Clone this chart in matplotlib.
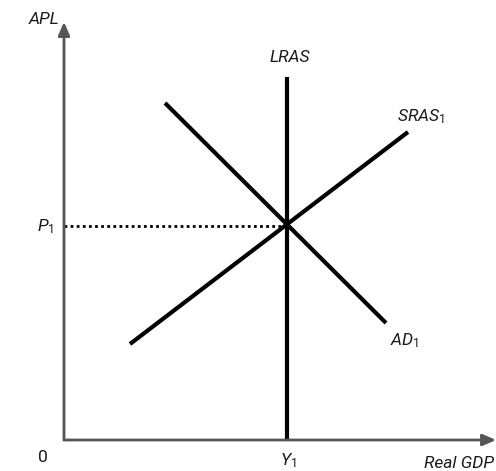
import matplotlib.pyplot as plt

plt.rcParams["font.family"] = ["Roboto", "DejaVu Sans"]
plt.rcParams["mathtext.fontset"] = "custom"
plt.rcParams["mathtext.it"] = "Roboto:italic"
plt.rcParams["mathtext.rm"] = "Roboto"

# curves in chart units (origin at the axes corner)
ad_x = [101, 322]
ad_y = [337, 117]
sras_x = [66, 344]
sras_y = [96, 308]
lras_x = [223, 223]
lras_y = [0, 363]
eq_x, eq_y = 223, 214
x_max, y_max = 432, 418

fig = plt.figure(figsize=(4.96, 4.71), dpi=100)
ax = fig.add_axes([0, 0, 1, 1])
ax.set_xlim(-64, 432)
ax.set_ylim(-31, 440)
ax.axis("off")

axis_col = "#555555"
ax.annotate("", xy=(0, y_max), xytext=(0, 0),
            arrowprops=dict(arrowstyle="-|>,head_length=0.8,head_width=0.35",
                            color=axis_col, lw=2, shrinkA=0, shrinkB=0))
ax.annotate("", xy=(x_max, 0), xytext=(0, 0),
            arrowprops=dict(arrowstyle="-|>,head_length=0.8,head_width=0.35",
                            color=axis_col, lw=2, shrinkA=0, shrinkB=0))

ax.plot([0, eq_x], [eq_y, eq_y], color="black", lw=2, ls=(0, (1, 1.2)))
ax.plot(lras_x, lras_y, color="black", lw=3, solid_capstyle="butt")
ax.plot(ad_x, ad_y, color="black", lw=3, solid_capstyle="butt")
ax.plot(sras_x, sras_y, color="black", lw=3, solid_capstyle="butt")

fs = 12.5
tc = "#1a1a1a"
ax.text(-35, 420, "APL", fontsize=fs, style="italic", color=tc, ha="left", va="center")
ax.text(lras_x[0] + 3, 383, "LRAS", fontsize=fs, style="italic", color=tc,
        ha="center", va="center")
ax.text(333, 323, r"$SRAS_{\mathrm{1}}$", fontsize=fs, color=tc, ha="left", va="center")
ax.text(326, 99, r"$AD_{\mathrm{1}}$", fontsize=fs, color=tc, ha="left", va="center")
ax.text(-10, eq_y - 1, r"$P_{\mathrm{1}}$", fontsize=fs, color=tc, ha="right", va="center")
ax.text(-21, -17, "0", fontsize=fs, color=tc, ha="center", va="center")
ax.text(eq_x + 1, -21, r"$Y_{\mathrm{1}}$", fontsize=fs, color=tc, ha="center", va="center")
ax.text(430, -23, "Real GDP", fontsize=fs, style="italic", color=tc,
        ha="right", va="center")

fig.savefig("out.png", dpi=100)
